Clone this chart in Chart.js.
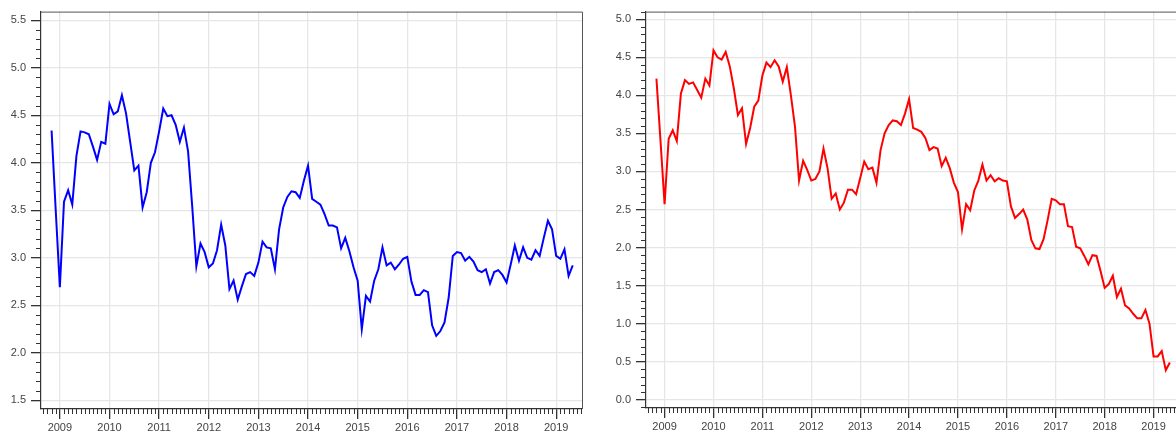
<!DOCTYPE html>
<html>
<head>
<style>
  html, body { margin:0; padding:0; overflow:hidden; background:#fff; width:1176px; height:434px; }
  .box { position:absolute; top:0; }
</style>
</head>
<body>
<div class="box" style="left:0"><canvas id="left" width="590" height="434"></canvas></div>
<div class="box" style="left:600px"><canvas id="right" width="580" height="434"></canvas></div>
<script src="https://cdn.jsdelivr.net/npm/chart.js"></script>
<script>
// monthly series, first point is Nov 2008
const startYear = 2008, startMonth = 11;

const leftValues = [
  4.34, 3.50,
  2.69, 3.59, 3.71, 3.56, 4.07, 4.33, 4.32, 4.30, 4.17, 4.03, 4.22, 4.20,
  4.62, 4.51, 4.54, 4.71, 4.52, 4.22, 3.92, 3.97, 3.53, 3.69, 4.00, 4.11,
  4.33, 4.57, 4.49, 4.50, 4.40, 4.22, 4.37, 4.12, 3.54, 2.91, 3.15, 3.06,
  2.90, 2.94, 3.08, 3.35, 3.13, 2.67, 2.76, 2.56, 2.70, 2.83, 2.85, 2.81,
  2.95, 3.17, 3.11, 3.10, 2.88, 3.30, 3.53, 3.64, 3.70, 3.69, 3.63, 3.81,
  3.97, 3.62, 3.59, 3.56, 3.46, 3.34, 3.34, 3.32, 3.10, 3.21, 3.07, 2.90,
  2.76, 2.25, 2.60, 2.54, 2.76, 2.88, 3.11, 2.92, 2.95, 2.88, 2.93, 2.99,
  3.01, 2.75, 2.61, 2.61, 2.66, 2.64, 2.29, 2.18, 2.23, 2.32, 2.58, 3.02,
  3.06, 3.05, 2.97, 3.01, 2.96, 2.87, 2.85, 2.88, 2.73, 2.85, 2.87, 2.82,
  2.74, 2.93, 3.13, 2.97, 3.11, 3.00, 2.98, 3.08, 3.02, 3.21, 3.39, 3.30,
  3.02, 2.99, 3.09, 2.81, 2.92
];

const rightValues = [
  4.22, 3.40,
  2.57, 3.43, 3.54, 3.40, 4.02, 4.20, 4.15, 4.17, 4.07, 3.97, 4.22, 4.13,
  4.59, 4.50, 4.47, 4.57, 4.38, 4.09, 3.74, 3.83, 3.36, 3.57, 3.85, 3.93,
  4.26, 4.43, 4.37, 4.46, 4.38, 4.18, 4.37, 4.00, 3.59, 2.88, 3.14, 3.02,
  2.88, 2.90, 3.00, 3.30, 3.04, 2.64, 2.71, 2.50, 2.59, 2.76, 2.76, 2.70,
  2.91, 3.13, 3.03, 3.05, 2.85, 3.28, 3.50, 3.61, 3.67, 3.66, 3.61, 3.76,
  3.95, 3.57, 3.55, 3.52, 3.44, 3.28, 3.32, 3.30, 3.07, 3.18, 3.04, 2.85,
  2.73, 2.24, 2.57, 2.49, 2.75, 2.88, 3.09, 2.88, 2.95, 2.87, 2.91, 2.88,
  2.87, 2.54, 2.39, 2.44, 2.50, 2.37, 2.10, 1.99, 1.98, 2.11, 2.36, 2.64,
  2.62, 2.57, 2.57, 2.28, 2.27, 2.01, 1.99, 1.89, 1.78, 1.90, 1.89, 1.69,
  1.47, 1.52, 1.63, 1.35, 1.46, 1.24, 1.20, 1.13, 1.07, 1.07, 1.18, 1.00,
  0.57, 0.57, 0.64, 0.39, 0.49
];

const yearTicks = [2009, 2010, 2011, 2012, 2013, 2014, 2015, 2016, 2017, 2018, 2019];
const leftYTicks = [1.5, 2.0, 2.5, 3.0, 3.5, 4.0, 4.5, 5.0, 5.5];
const rightYTicks = [0.0, 0.5, 1.0, 1.5, 2.0, 2.5, 3.0, 3.5, 4.0, 4.5, 5.0];

const xMin = 2008.62, xMax = 2019.52;
const tickFont = { family: 'Liberation Sans', size: 11 };

function toPoints(values) {
  return values.map((v, i) => ({ x: startYear + (startMonth - 1 + i) / 12, y: v }));
}

// monthly / 0.1 minor ticks plus the top and right frame
const extras = {
  id: 'extras',
  afterDraw(chart) {
    const ctx = chart.ctx, a = chart.chartArea, xs = chart.scales.x, ys = chart.scales.y;
    ctx.save();
    ctx.strokeStyle = '#333';
    ctx.lineWidth = 1;
    ctx.beginPath();
    for (let m = Math.ceil(xs.min * 12); m <= xs.max * 12; m++) {
      if (m % 12 === 0) continue;
      const px = Math.round(xs.getPixelForValue(m / 12)) + 0.5;
      ctx.moveTo(px, a.bottom);
      ctx.lineTo(px, a.bottom + 5);
    }
    for (let k = Math.ceil(ys.min * 10); k <= ys.max * 10; k++) {
      if (k % 5 === 0) continue;
      const py = Math.round(ys.getPixelForValue(k / 10)) + 0.5;
      ctx.moveTo(a.left - 5, py);
      ctx.lineTo(a.left, py);
    }
    ctx.stroke();
    ctx.strokeStyle = '#555';
    ctx.beginPath();
    ctx.moveTo(a.left, a.top + 0.5);
    ctx.lineTo(a.right + 0.5, a.top + 0.5);
    ctx.lineTo(a.right + 0.5, a.bottom);
    ctx.stroke();
    ctx.restore();
  }
};

function makeChart(id, values, color, yMin, yMax, yTicks, yWidth, xHeight, padTop, padRight, sep) {
  return new Chart(document.getElementById(id).getContext('2d'), {
    type: 'line',
    data: {
      datasets: [{
        data: toPoints(values),
        borderColor: color,
        borderWidth: 2,
        pointRadius: 0,
        tension: 0,
        fill: false
      }]
    },
    options: {
      responsive: false,
      animation: false,
      layout: { padding: { top: padTop, right: padRight, left: 0, bottom: 0 } },
      plugins: { legend: { display: false }, tooltip: { enabled: false } },
      scales: {
        x: {
          type: 'linear', min: xMin, max: xMax,
          afterBuildTicks: s => { s.ticks = yearTicks.map(v => ({ value: v })); },
          afterFit: s => { s.height = xHeight; },
          grid: { color: '#e6e6e6', tickColor: '#333', tickLength: 10, lineWidth: 1.3 },
          border: { color: '#333', width: 1.2 },
          ticks: { font: tickFont, color: '#444', padding: 2, maxRotation: 0, autoSkip: false,
                   callback: v => String(v) }
        },
        y: {
          min: yMin, max: yMax,
          afterBuildTicks: s => { s.ticks = yTicks.map(v => ({ value: v })); },
          afterFit: s => { s.width = yWidth; },
          grid: { color: '#e6e6e6', tickColor: '#333', tickLength: 10, lineWidth: 1.3 },
          border: { color: '#333', width: 1.2 },
          ticks: { font: tickFont, color: '#444', padding: 5,
                   callback: v => v.toFixed(1).replace('.', sep) }
        }
      }
    },
    plugins: [extras]
  });
}

makeChart('left', leftValues, '#0000ff', 1.41, 5.59, leftYTicks, 41, 25, 10, 8, '.');
makeChart('right', rightValues, '#ff0000', -0.108, 5.10, rightYTicks, 46, 26, 9, 1, '.');
</script>
</body>
</html>
